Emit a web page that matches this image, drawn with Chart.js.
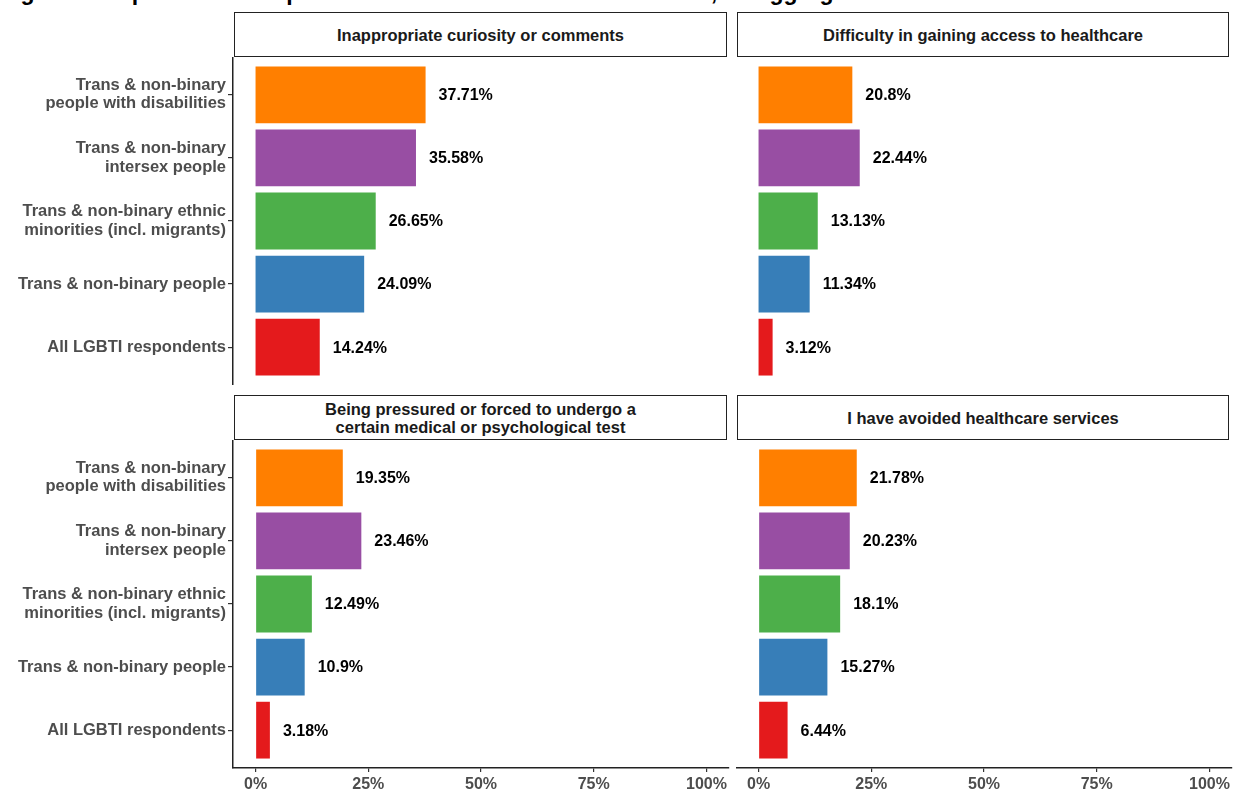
<!DOCTYPE html>
<html lang="en">
<head>
  <meta charset="UTF-8" />
  <title>Barriers in access to healthcare</title>
  <script src="https://cdn.jsdelivr.net/npm/chart.js"></script>
  <style>
    html, body {
      margin: 0;
      padding: 0;
      background: #fff;
      overflow: hidden;
    }
    body {
      width: 1245px;
      height: 791px;
      position: relative;
      font-family: 'Liberation Sans', Arial, sans-serif;
    }
    .title {
      position: absolute;
      left: 0;
      top: -19px;
      font-size: 23px;
      line-height: 23px;
      font-weight: bold;
      color: #000;
      white-space: nowrap;
    }
    .strip {
      position: absolute;
      box-sizing: border-box;
      height: 45px;
      border: 1.5px solid #222;
      background: #fff;
      display: flex;
      align-items: center;
      justify-content: center;
      text-align: center;
      font-size: 16.5px;
      font-weight: bold;
      line-height: 18px;
      color: #1a1a1a;
    }
    canvas {
      position: absolute;
    }
  </style>
</head>
<body>
  <div class="title">Figure 6: Experiences of specific barriers in access to healthcare, disaggregated</div>

  <div class="strip" style="left:234px; top:12px; width:493px;">Inappropriate curiosity or comments</div>
  <div class="strip" style="left:737px; top:12px; width:492px;">Difficulty in gaining access to healthcare</div>
  <div class="strip" style="left:234px; top:395px; width:493px;">Being pressured or forced to undergo a<br>certain medical or psychological test</div>
  <div class="strip" style="left:737px; top:395px; width:492px;">I have avoided healthcare services</div>

  <canvas id="p1" width="737" height="328" style="left:0; top:57px;"></canvas>
  <canvas id="p2" width="509" height="328" style="left:736px; top:57px;"></canvas>
  <canvas id="p3" width="737" height="351" style="left:0; top:440px;"></canvas>
  <canvas id="p4" width="509" height="351" style="left:736px; top:440px;"></canvas>

  <script>
    // groups, top to bottom
    const groups = [
      ['Trans & non-binary', 'people with disabilities'],
      ['Trans & non-binary', 'intersex people'],
      ['Trans & non-binary ethnic', 'minorities (incl. migrants)'],
      'Trans & non-binary people',
      'All LGBTI respondents'
    ];
    const groupColors = ['#FF7F00', '#984EA3', '#4DAF4A', '#377EB8', '#E41A1C'];

    // percentages per barrier, same order as groups
    const curiosity = [37.71, 35.58, 26.65, 24.09, 14.24];
    const difficulty = [20.8, 22.44, 13.13, 11.34, 3.12];
    const pressured = [19.35, 23.46, 12.49, 10.9, 3.18];
    const avoided = [21.78, 20.23, 18.1, 15.27, 6.44];

    const xTicks = [0, 25, 50, 75, 100];

    const FONT = "'Liberation Sans', Arial, sans-serif";

    const valueLabels = {
      id: 'valueLabels',
      afterDatasetsDraw(chart) {
        const ctx = chart.ctx;
        const meta = chart.getDatasetMeta(0);
        ctx.save();
        ctx.font = 'bold 16px ' + FONT;
        ctx.fillStyle = '#000';
        ctx.textAlign = 'left';
        ctx.textBaseline = 'middle';
        meta.data.forEach((bar, i) => {
          const v = chart.data.datasets[0].data[i].x;
          ctx.fillText(v + '%', bar.x + 13, bar.y + 1);
        });
        ctx.restore();
      }
    };

    function makePanel(id, values, showY, showX, padRight) {
      const ctx = document.getElementById(id).getContext('2d');
      new Chart(ctx, {
        type: 'bar',
        data: {
          datasets: [{
            data: values.map((v, i) => ({ x: v, y: i })),
            backgroundColor: groupColors,
            borderWidth: 0,
            barPercentage: 0.9,
            categoryPercentage: 1.0
          }]
        },
        options: {
          indexAxis: 'y',
          responsive: false,
          animation: false,
          layout: { padding: { top: 0, bottom: 0, left: 0, right: padRight } },
          plugins: {
            legend: { display: false },
            tooltip: { enabled: false }
          },
          scales: {
            x: {
              type: 'linear',
              min: -5,
              max: 105,
              offset: false,
              display: showX,
              afterBuildTicks: s => { s.ticks = xTicks.map(v => ({ value: v })); },
              afterFit: s => { s.height = showX ? 23 : 0; s.paddingLeft = 0; s.paddingRight = 0; },
              grid: { offset: false, drawOnChartArea: false, drawTicks: true, tickLength: 4, color: '#333', lineWidth: 1.2 },
              border: { display: true, color: '#222', width: 1.5 },
              ticks: {
                padding: 3,
                color: '#4d4d4d',
                font: { family: FONT, size: 16, weight: 'bold' },
                callback: v => v + '%'
              }
            },
            y: {
              type: 'linear',
              min: -0.6,
              max: 4.6,
              reverse: true,
              offset: false,
              display: showY,
              afterBuildTicks: s => { s.ticks = groups.map((g, i) => ({ value: i })); },
              afterFit: s => { s.width = showY ? 233 : 0; s.paddingTop = 0; s.paddingBottom = 0; },
              grid: { offset: false, drawOnChartArea: false, drawTicks: true, tickLength: 5, color: '#333', lineWidth: 1.2 },
              border: { display: true, color: '#222', width: 1.5 },
              ticks: {
                padding: 2,
                color: '#4d4d4d',
                font: { family: FONT, size: 16.5, weight: 'bold', lineHeight: 1.1 },
                callback: v => groups[v]
              }
            }
          }
        },
        plugins: [valueLabels]
      });
    }

    makePanel('p1', curiosity, true, false, 8);
    makePanel('p2', difficulty, false, false, 13);
    makePanel('p3', pressured, true, true, 8);
    makePanel('p4', avoided, false, true, 13);
  </script>
</body>
</html>
